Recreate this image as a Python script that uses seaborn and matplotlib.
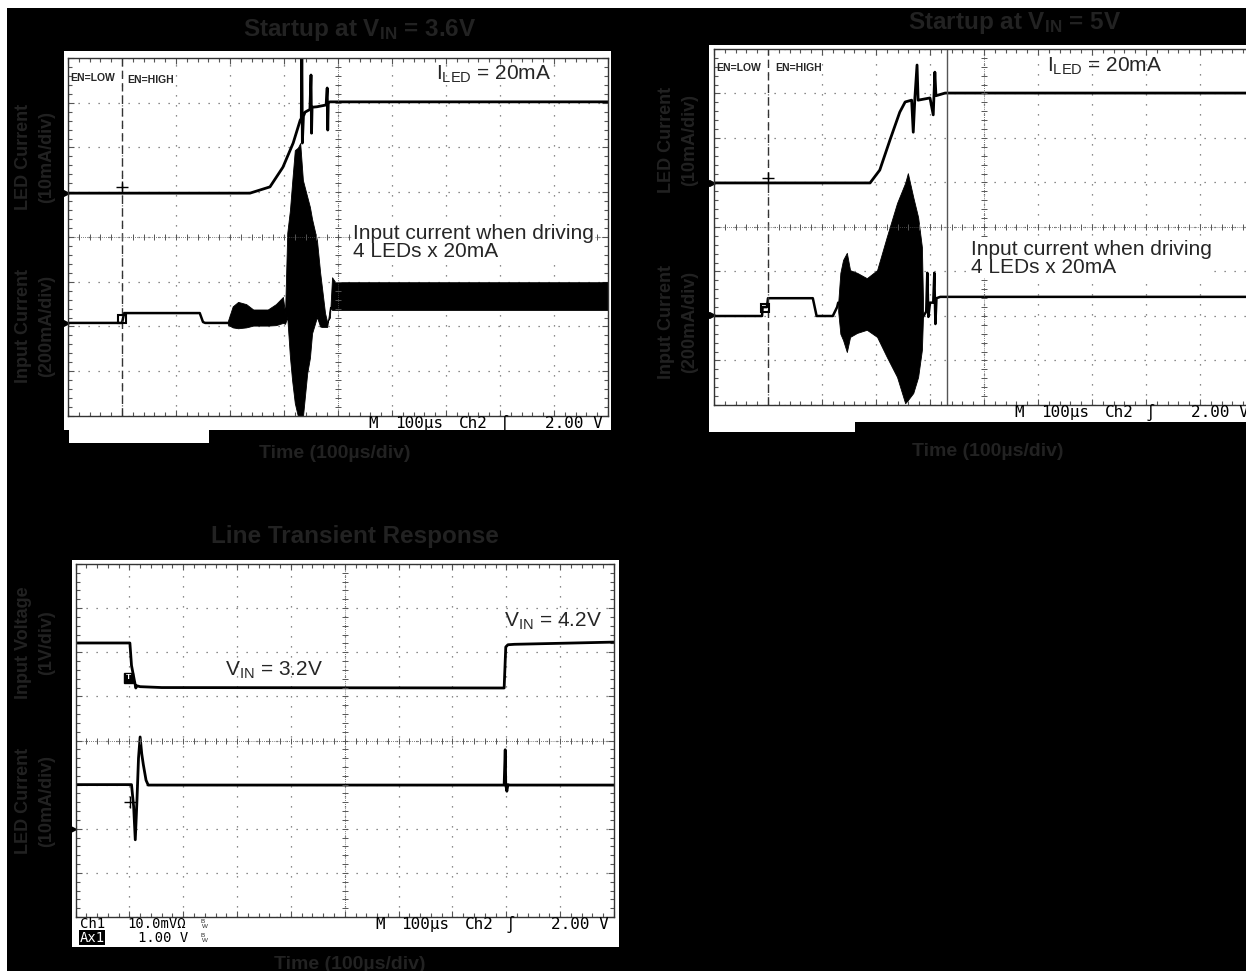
import numpy as np
import matplotlib.pyplot as plt
from matplotlib.patches import Rectangle
import seaborn as sns

sns.set_style("white")
plt.rcParams['font.family'] = ['Liberation Sans', 'DejaVu Sans']
plt.rcParams['mathtext.fontset'] = 'custom'
plt.rcParams['mathtext.rm'] = 'Liberation Sans'
plt.rcParams['mathtext.bf'] = 'Liberation Sans:bold'
plt.rcParams['mathtext.it'] = 'Liberation Sans:italic'

# time in us (100 us/div), level in screen divisions (0..8 from bottom)

# --- Startup at VIN = 3.6V ---
p1_led_t = [0, 337, 374, 398, 417, 430, 432, 433, 434, 436, 439, 448, 450, 451, 452, 461, 478, 480, 481, 482, 485, 1000]
p1_led_y = [4.98, 4.98, 5.12, 5.56, 6.10, 6.61, 6.65, 8.3, 6.1, 6.7, 6.79, 6.85, 7.62, 6.32, 6.9, 6.91, 6.95, 7.33, 6.39, 7.0, 7.02, 7.02]
p1_in_t = [0, 100, 104, 244, 250, 254, 296]
p1_in_y = [2.08, 2.08, 2.30, 2.30, 2.10, 2.08, 2.08]
p1_env_t = [296, 305, 315, 330, 343, 370, 385, 398, 402, 406, 411, 415, 420, 426, 430, 435, 443, 448, 452, 461, 467, 470, 476, 480, 485, 489, 495, 1000]
p1_env_top = [2.12, 2.45, 2.55, 2.50, 2.38, 2.38, 2.50, 2.66, 2.30, 4.09, 4.6, 5.21, 5.94, 6.0, 6.10, 5.27, 4.9, 4.67, 4.4, 3.93, 3.20, 2.9, 2.30, 2.1, 2.2, 3.10, 2.99, 2.99]
p1_env_bot = [2.04, 1.98, 1.96, 1.98, 2.02, 2.02, 2.03, 2.08, 2.06, 2.21, 1.32, 0.8, 0.29, -0.02, -0.02, -0.02, 0.96, 1.3, 1.85, 2.21, 2.0, 1.99, 1.99, 1.99, 2.44, 2.37, 2.37, 2.37]

# --- Startup at VIN = 5V ---
p2_led_t = [0, 289, 307, 326, 344, 354, 366, 369, 372, 376, 378, 400, 406, 409, 411, 428, 1000]
p2_led_y = [4.99, 4.99, 5.28, 5.96, 6.58, 6.81, 6.85, 6.13, 6.9, 7.64, 6.85, 6.90, 6.52, 7.48, 6.95, 7.01, 7.01]
p2_in_t = [0, 89, 90, 98, 100, 183, 190, 220, 228, 230]
p2_in_y = [2.0, 2.0, 2.2, 2.2, 2.4, 2.4, 2.0, 2.0, 2.2, 2.3]
p2_env_t = [230, 234, 239, 246, 252, 265, 283, 302, 320, 339, 354, 359, 369, 378, 385, 387]
p2_env_top = [2.3, 2.97, 3.26, 3.42, 3.03, 2.97, 2.85, 3.03, 3.78, 4.54, 4.99, 5.21, 4.67, 4.22, 3.55, 2.36]
p2_env_bot = [2.1, 1.6, 1.46, 1.19, 1.53, 1.62, 1.69, 1.53, 1.08, 0.63, 0.04, 0.11, 0.27, 0.63, 1.24, 1.98]
p2_after_t = [387, 393, 395, 397, 400, 406, 408, 410, 412, 419, 1000]
p2_after_y = [1.98, 2.1, 2.97, 1.98, 2.3, 2.3, 2.97, 1.82, 2.4, 2.43, 2.43]
p2_cursor_t = 431

# --- Line transient response ---
p3_vin_t = [0, 101, 104, 112, 114, 120, 160, 796, 799, 803, 815, 1000]
p3_vin_y = [6.21, 6.21, 5.7, 5.19, 5.24, 5.22, 5.2, 5.19, 6.12, 6.17, 6.18, 6.23]
p3_led_t = [0, 104, 108, 111, 114, 117, 120, 123, 126, 131, 135, 796, 798, 799, 801, 803, 806, 1000]
p3_led_y = [3.0, 3.0, 2.5, 1.75, 2.6, 3.6, 4.08, 3.7, 3.45, 3.1, 2.99, 2.99, 3.79, 3.0, 2.85, 3.0, 2.99, 2.99]

en_t = 100
gnd_p1 = [4.98, 2.08]
gnd_p2 = [4.99, 2.02]
gnd_p3 = [2.0]

W, H = 1246, 971
DARK = '#222222'


def box(x0, y0, x1, y1):
    return [x0 / W, 1 - y1 / H, (x1 - x0) / W, (y1 - y0) / H]


def white(fig, x0, y0, x1, y1, color='white'):
    fig.add_artist(Rectangle((x0 / W, 1 - y1 / H), (x1 - x0) / W, (y1 - y0) / H,
                             transform=fig.transFigure, color=color, lw=0, zorder=-5))


def scope(ax):
    ax.set_facecolor('white')
    ax.set_xticks(np.arange(0, 1001, 100))
    ax.set_yticks(np.arange(0, 9, 1))
    ax.set_xticks(np.arange(0, 1001, 20), minor=True)
    ax.set_yticks(np.arange(0, 8.01, 0.2), minor=True)
    ax.tick_params(which='both', direction='in', top=True, right=True, bottom=True, left=True,
                   labelbottom=False, labelleft=False, color='#555555', width=0.8)
    ax.tick_params(which='major', length=4)
    ax.tick_params(which='minor', length=3)
    ax.grid(True, which='major', color='#666666', lw=0.9, ls=(0, (1, 7)))
    ax.axhline(4, color='#555555', lw=0.6, ls=(0, (1, 1.5)))
    ax.axvline(500, color='#555555', lw=0.6, ls=(0, (1, 1.5)))
    ax.plot(np.arange(0, 1001, 20), np.full(51, 4.0), ls='none', marker='|', ms=5, mew=0.7, color='#555555')
    ax.plot(np.full(41, 500.0), np.arange(0, 8.01, 0.2), ls='none', marker='_', ms=5, mew=0.7, color='#555555')
    for s in ax.spines.values():
        s.set_color('#333333')
        s.set_linewidth(1)
    ax.set_xlabel('')
    ax.set_ylabel('')
    ax.set_xlim(0, 1000)
    ax.set_ylim(0, 8)


def trace(ax, t, y, lw=1.8):
    sns.lineplot(x=t, y=y, ax=ax, estimator=None, sort=False, color='black', linewidth=lw)


MONO = dict(fontsize=11.5, color='black', va='center', family=['DejaVu Sans Mono'])


def readout(ax, y):
    ax.text(556, y, 'M', **MONO)
    ax.text(605, y, '100µs', **MONO)
    ax.text(724, y, 'Ch2', **MONO)
    ax.text(800, y, '∫', **MONO)
    ax.text(991, y, '2.00 V', ha='right', **MONO)


fig = plt.figure(figsize=(W / 100, H / 100), dpi=100, facecolor='black')
white(fig, 0, 0, W, 8)
white(fig, 0, 0, 7, H)

# panel backgrounds
white(fig, 64, 51, 611, 430)
white(fig, 69, 430, 209, 443)
white(fig, 709, 45, 1246, 422)
white(fig, 709, 422, 855, 432)
white(fig, 72, 560, 619, 947)

ax1 = fig.add_axes(box(68, 58, 608, 416))
ax2 = fig.add_axes(box(714, 49, 1254, 405))
ax3 = fig.add_axes(box(75.5, 564, 614, 917))

note_kw = dict(fontsize=15, va='center')

# ---- panel 1 ----
ax1.fill_between(p1_env_t, p1_env_bot, p1_env_top, color='black', lw=0.6)
trace(ax1, p1_led_t, p1_led_y, 2.0)
trace(ax1, p1_in_t, p1_in_y, 1.8)
ax1.axvline(en_t, color='#333333', lw=1.0, ls=(0, (6, 3)))
ax1.plot([-4] * len(gnd_p1), gnd_p1, ls='none', marker='>', ms=5, color='black', clip_on=False)
ax1.plot([en_t], [5.12], ls='none', marker='+', ms=9, mew=1, color='black')
ax1.plot([en_t], [2.16], ls='none', marker='s', ms=6, mfc='none', mec='black', mew=1.5)
ax1.text(4, 7.55, 'EN=LOW', fontsize=7.5, weight='bold', va='center')
ax1.text(109, 7.5, 'EN=HIGH', fontsize=7.5, weight='bold', va='center')
ax1.text(681, 7.64, r'I$_{\mathrm{LED}}$ = 20mA', **note_kw)
ax1.text(528, 3.87, 'Input current when driving\n4 LEDs x 20mA', linespacing=0.95,
         bbox=dict(facecolor='white', edgecolor='none', pad=1), **note_kw)
scope(ax1)
readout(ax1, -0.17)

# ---- panel 2 ----
ax2.fill_between(p2_env_t, p2_env_bot, p2_env_top, color='black', lw=0.6)
trace(ax2, p2_led_t, p2_led_y, 2.0)
trace(ax2, p2_in_t, p2_in_y, 1.8)
trace(ax2, p2_after_t, p2_after_y, 1.8)
ax2.axvline(en_t, color='#333333', lw=1.0, ls=(0, (6, 3)))
ax2.axvline(p2_cursor_t, color='#555555', lw=1.0)
ax2.plot([-4] * len(gnd_p2), gnd_p2, ls='none', marker='>', ms=5, color='black', clip_on=False)
ax2.plot([en_t], [5.1], ls='none', marker='+', ms=9, mew=1, color='black')
ax2.plot([en_t - 6], [2.18], ls='none', marker='s', ms=6, mfc='none', mec='black', mew=1.5)
ax2.text(4, 7.57, 'EN=LOW', fontsize=7.5, weight='bold', va='center')
ax2.text(113, 7.57, 'EN=HIGH', fontsize=7.5, weight='bold', va='center')
ax2.text(617, 7.6, r'I$_{\mathrm{LED}}$ = 20mA', **note_kw)
ax2.text(476, 3.3, 'Input current when driving\n4 LEDs x 20mA', linespacing=0.95,
         bbox=dict(facecolor='white', edgecolor='none', pad=1), **note_kw)
scope(ax2)
readout(ax2, -0.16)

# ---- panel 3 ----
trace(ax3, p3_vin_t, p3_vin_y, 2.0)
trace(ax3, p3_led_t, p3_led_y, 2.0)
ax3.plot([-4] * len(gnd_p3), gnd_p3, ls='none', marker='>', ms=5, color='black', clip_on=False)
ax3.plot([101], [2.6], ls='none', marker='+', ms=9, mew=1, color='black')
ax3.text(98, 5.42, 'T', fontsize=6, color='white', ha='center', va='center', weight='bold',
         bbox=dict(facecolor='black', edgecolor='black', pad=1.2))
ax3.text(278, 5.6, r'V$_{\mathrm{IN}}$ = 3.2V', **note_kw)
ax3.text(796, 6.71, r'V$_{\mathrm{IN}}$ = 4.2V', **note_kw)
scope(ax3)
readout(ax3, -0.18)
small = dict(MONO, fontsize=10)
ax3.text(8, -0.16, 'Ch1', **small)
ax3.text(96, -0.16, '10.0mVΩ', **small)
ax3.text(8, -0.47, 'Ax1', **dict(small, color='white'),
         bbox=dict(facecolor='black', edgecolor='none', pad=0.4))
ax3.text(116, -0.47, '1.00 V', **small)
for yb in (-0.16, -0.47):
    ax3.text(232, yb + 0.05, 'B', fontsize=4.5, va='center')
    ax3.text(235, yb - 0.06, 'W', fontsize=4.5, va='center')

# ---- titles and axis labels on the dark page ----
title_kw = dict(fontsize=17.5, weight='bold', color=DARK, ha='center', va='center')
fig.text(360 / W, 1 - 30 / H, r'Startup at V$_{\mathbf{IN}}$ = 3.6V', **title_kw)
fig.text(1015 / W, 1 - 23 / H, r'Startup at V$_{\mathbf{IN}}$ = 5V', **title_kw)
fig.text(355 / W, 1 - 536 / H, 'Line Transient Response', **title_kw)

xl_kw = dict(fontsize=14, weight='bold', color=DARK, ha='center', va='center')
fig.text(335 / W, 1 - 453 / H, 'Time (100µs/div)', **xl_kw)
fig.text(988 / W, 1 - 451 / H, 'Time (100µs/div)', **xl_kw)
fig.text(350 / W, 1 - 964 / H, 'Time (100µs/div)', **xl_kw)

yl_kw = dict(fontsize=13, weight='bold', color=DARK, ha='center', va='center', rotation=90,
             linespacing=1.45, multialignment='center')
fig.text(35 / W, 1 - 157 / H, 'LED Current\n(10mA/div)', **yl_kw)
fig.text(35 / W, 1 - 326 / H, 'Input Current\n(200mA/div)', **yl_kw)
fig.text(678 / W, 1 - 140 / H, 'LED Current\n(10mA/div)', **yl_kw)
fig.text(678 / W, 1 - 322 / H, 'Input Current\n(200mA/div)', **yl_kw)
fig.text(35 / W, 1 - 643 / H, 'Input Voltage\n(1V/div)', **yl_kw)
fig.text(35 / W, 1 - 801 / H, 'LED Current\n(10mA/div)', **yl_kw)

fig.savefig('out.png', dpi=100, facecolor=fig.get_facecolor())
